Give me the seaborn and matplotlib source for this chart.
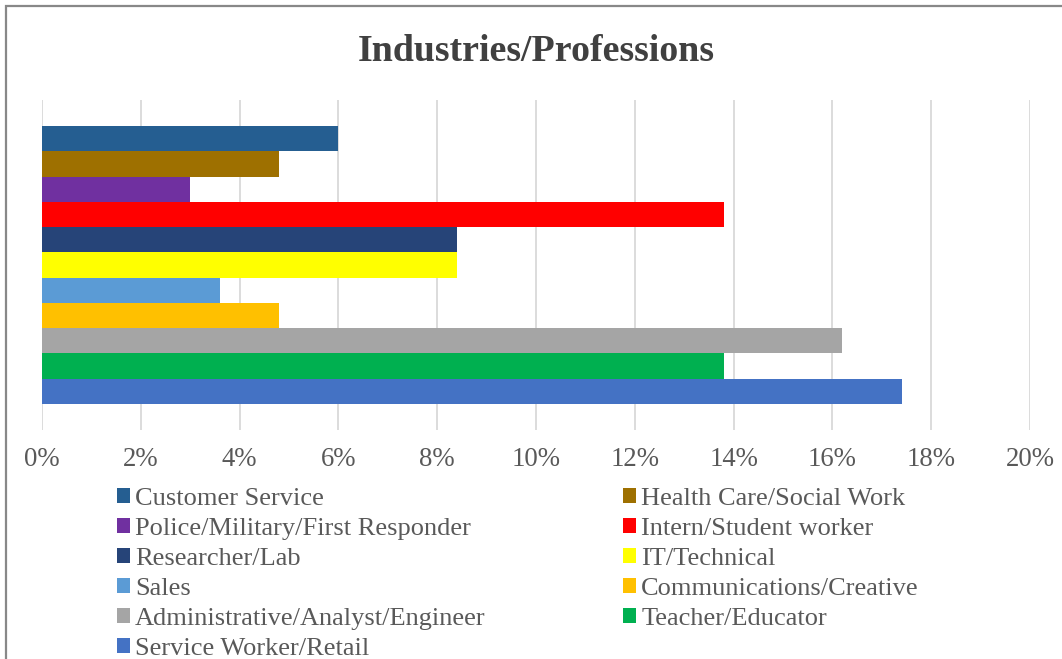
import matplotlib
matplotlib.use("Agg")
import matplotlib.pyplot as plt
from matplotlib.patches import Rectangle, Patch
from matplotlib.ticker import PercentFormatter
import seaborn as sns
import pandas as pd

# Share of respondents by industry / profession
professions = [
    "Customer Service",
    "Health Care/Social Work",
    "Police/Military/First Responder",
    "Intern/Student worker",
    "Researcher/Lab",
    "IT/Technical",
    "Sales",
    "Communications/Creative",
    "Administrative/Analyst/Engineer",
    "Teacher/Educator",
    "Service Worker/Retail",
]
shares = [6.0, 4.8, 3.0, 13.8, 8.4, 8.4, 3.6, 4.8, 16.2, 13.8, 17.4]
colors = [
    "#255E91", "#9E7000", "#7030A0", "#FF0000", "#264478", "#FFFF00",
    "#5B9BD5", "#FFC000", "#A5A5A5", "#00B050", "#4472C4",
]
tick_values = [0, 2, 4, 6, 8, 10, 12, 14, 16, 18, 20]

df = pd.DataFrame({"group": ["All"] * len(professions),
                   "profession": professions,
                   "share": shares})

sns.set_theme(style="white")
plt.rcParams["font.family"] = ["Liberation Serif", "DejaVu Serif"]

fig = plt.figure(figsize=(10.62, 6.59), dpi=100)
fig.patch.set_facecolor("white")

# chart frame
fig.patches.append(Rectangle((6 / 1062, -0.05), 1.2, 1 - 6 / 659 + 0.05,
                             transform=fig.transFigure, fill=False,
                             edgecolor="#888888", linewidth=1.6))

ax = fig.add_axes([42 / 1062, 1 - 430 / 659, (1030 - 42) / 1062, 330 / 659])
sns.barplot(data=df, x="share", y="group", hue="profession",
            hue_order=professions, palette=colors, orient="h",
            width=0.842, gap=0, saturation=1, legend=False,
            linewidth=0, edgecolor="none", ax=ax)

ax.set_xlim(0, 20)
ax.set_ylim(0.5, -0.5)
ax.set_xticks(tick_values)
ax.xaxis.set_major_formatter(PercentFormatter(decimals=0))
ax.grid(axis="x", color="#D9D9D9", linewidth=1.3)
ax.set_axisbelow(True)
ax.set_yticks([])
ax.set_xlabel("")
ax.set_ylabel("")
for s in ax.spines.values():
    s.set_visible(False)
ax.tick_params(axis="x", length=0, pad=12.5, labelsize=19.3, labelcolor="#595959")

ax.set_title("Industries/Professions", fontsize=27.3, fontweight="bold",
             color="#404040", pad=28)

handles = [Patch(facecolor=c, edgecolor="none") for c in colors]
order = [0, 2, 4, 6, 8, 10, 1, 3, 5, 7, 9]
fig.legend([handles[i] for i in order], [professions[i] for i in order],
           ncol=2, loc="upper left", bbox_to_anchor=(117 / 1062, 1 - 488 / 659),
           frameon=False, fontsize=19, labelcolor="#595959",
           handlelength=0.5, handleheight=0.5, handletextpad=0.19,
           labelspacing=0.30, columnspacing=5.2, borderpad=0, borderaxespad=0)

fig.savefig("out.png", dpi=100, facecolor="white")
